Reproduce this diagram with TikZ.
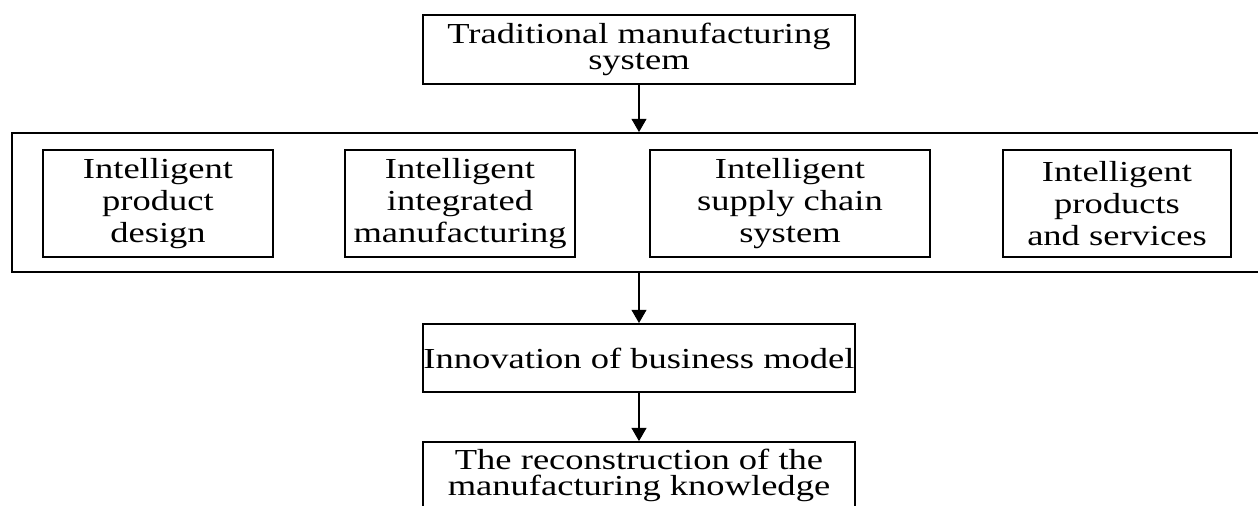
\documentclass[tikz,border=0pt]{standalone}
\usepackage{fontspec}
\setmainfont{Liberation Serif}[FakeStretch=1.26]
\usetikzlibrary{arrows.meta}

\begin{document}
\begin{tikzpicture}[
            x=0.02cm, y=-0.02cm,
            box/.style={draw, line width=1.1pt, align=center, inner sep=0pt,
                font=\fontsize{16.5}{#1}\selectfont},
            box/.default=18pt,
            flow/.style={line width=0.6pt, -{Triangle[width=8.5pt,length=7.5pt]}}
        ]
        \useasboundingbox (0,0) rectangle (1258,506);
        \clip (0,0) rectangle (1258,506);
        \node[box=15.2pt, minimum width=8.64cm, minimum height=1.38cm] (trad) at (639,49.5)
            {Traditional manufacturing\\system};
        \node[box, minimum width=25.2cm, minimum height=2.78cm] (layer) at (642,202.5) {};
        \node[box, minimum width=4.6cm, minimum height=2.14cm] (design) at (158,203.5)
            {Intelligent\\product\\design};
        \node[box, minimum width=4.6cm, minimum height=2.14cm] (integ) at (460,203.5)
            {Intelligent\\integrated\\manufacturing};
        \node[box, minimum width=5.6cm, minimum height=2.14cm] (supply) at (790,203.5)
            {Intelligent\\supply chain\\system};
        \node[box, minimum width=4.56cm, minimum height=2.14cm] (service) at (1117,203.5)
            {Intelligent\\products\\and services};
        \node[box, minimum width=8.64cm, minimum height=1.36cm] (biz) at (639,358)
            {Innovation of business model};
        \node[box=15pt, minimum width=8.64cm, minimum height=1.33cm] (recon) at (639,475.3)
            {The reconstruction of the\\manufacturing knowledge};
        \draw[flow] (trad.south) -- (trad.south |- layer.north);
        \draw[flow] (trad.south |- layer.south) -- (biz.north);
        \draw[flow] (biz.south) -- (recon.north);
    \end{tikzpicture}
\end{document}
